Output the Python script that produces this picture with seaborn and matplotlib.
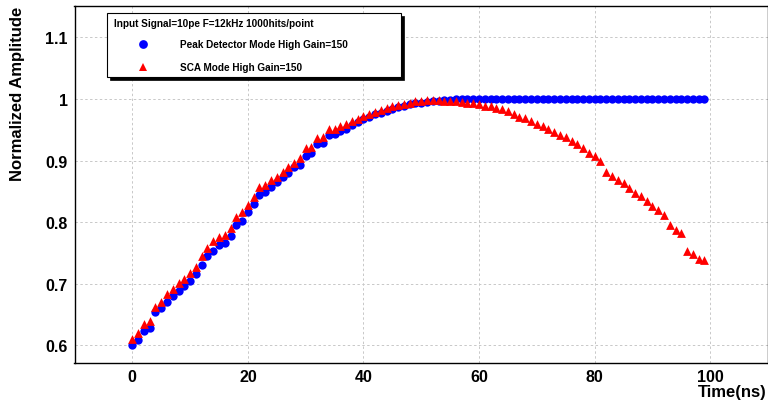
import numpy as np
import pandas as pd
import matplotlib
matplotlib.use("Agg")
import matplotlib.pyplot as plt
from matplotlib.patches import Rectangle
from matplotlib.lines import Line2D
from matplotlib.ticker import MultipleLocator, FuncFormatter
import seaborn as sns

# ---------------- data ----------------
time_ns = list(range(100))

peak_detector = [
    0.601, 0.609, 0.623, 0.629, 0.654, 0.661, 0.671, 0.681, 0.688, 0.696,
    0.704, 0.716, 0.731, 0.746, 0.753, 0.763, 0.766, 0.778, 0.796, 0.802,
    0.816, 0.830, 0.844, 0.849, 0.857, 0.865, 0.873, 0.880, 0.889, 0.893,
    0.908, 0.913, 0.927, 0.928, 0.941, 0.943, 0.948, 0.952, 0.957, 0.962,
    0.967, 0.971, 0.975, 0.978, 0.981, 0.984, 0.987, 0.989, 0.991, 0.993,
    0.994, 0.995, 0.996, 0.997, 0.998, 0.999, 1.000, 1.000, 1.000, 1.000,
    1.000, 1.000, 1.000, 1.000, 1.000, 1.000, 1.000, 1.000, 1.000, 1.000,
    1.000, 1.000, 1.000, 1.000, 1.000, 1.000, 1.000, 1.000, 1.000, 1.000,
    1.000, 1.000, 1.000, 1.000, 1.000, 1.000, 1.000, 1.000, 1.000, 1.000,
    1.000, 1.000, 1.000, 1.000, 1.000, 1.000, 1.000, 1.000, 1.000, 1.000,
]

sca_mode = [
    0.611, 0.620, 0.635, 0.639, 0.662, 0.670, 0.683, 0.692, 0.701, 0.708,
    0.717, 0.728, 0.745, 0.758, 0.769, 0.776, 0.780, 0.790, 0.808, 0.816,
    0.828, 0.841, 0.857, 0.861, 0.868, 0.874, 0.882, 0.889, 0.896, 0.904,
    0.920, 0.922, 0.937, 0.939, 0.951, 0.952, 0.956, 0.960, 0.964, 0.968,
    0.972, 0.976, 0.979, 0.982, 0.985, 0.988, 0.990, 0.992, 0.994, 0.996,
    0.997, 0.998, 0.998, 0.998, 0.997, 0.997, 0.996, 0.995, 0.994, 0.993,
    0.991, 0.989, 0.988, 0.986, 0.984, 0.981, 0.975, 0.971, 0.969, 0.965,
    0.960, 0.956, 0.952, 0.946, 0.942, 0.939, 0.931, 0.927, 0.920, 0.913,
    0.908, 0.900, 0.881, 0.875, 0.868, 0.863, 0.855, 0.848, 0.842, 0.834,
    0.826, 0.820, 0.812, 0.796, 0.788, 0.783, 0.754, 0.749, 0.740, 0.738,
]

legend_header = "Input Signal=10pe F=12kHz 1000hits/point"
label_peak = "Peak Detector Mode High Gain=150"
label_sca = "SCA Mode High Gain=150"
x_title = "Time(ns)"
y_title = "Normalized Amplitude"
x_ticks = [0, 20, 40, 60, 80, 100]
y_ticks = [0.6, 0.7, 0.8, 0.9, 1.0, 1.1]

# ---------------- figure ----------------
sns.set_style("white")
plt.rcParams["font.family"] = ["Liberation Sans", "DejaVu Sans"]
plt.rcParams["font.weight"] = "bold"
for key in ["text.color", "axes.labelcolor", "xtick.color", "ytick.color"]:
    plt.rcParams[key] = "black"

W, H = 768, 402
fig = plt.figure(figsize=(W / 100, H / 100), dpi=100)
fig.patch.set_facecolor("white")


def fx(px):
    return px / W


def fy(py):
    return 1 - py / H


ax_left, ax_right, ax_top, ax_bottom = 74.5, 768.0, 7.0, 364.0
ax = fig.add_axes([fx(ax_left), fy(ax_bottom), fx(ax_right - ax_left),
                   (ax_bottom - ax_top) / H])
ax.set_facecolor("white")

df_peak = pd.DataFrame({"t": time_ns, "amp": peak_detector})
df_sca = pd.DataFrame({"t": time_ns, "amp": sca_mode})

sns.scatterplot(data=df_peak, x="t", y="amp", ax=ax, color="#0000ff",
                marker="o", s=36, linewidth=0, legend=False, zorder=3)
sns.scatterplot(data=df_sca, x="t", y="amp", ax=ax, color="#ff0000",
                marker="^", s=40, linewidth=0, legend=False, zorder=4)

ax.set_xlim(-10, 110)
ax.set_ylim(0.5716, 1.1508)

ax.set_xticks(x_ticks)
ax.set_yticks(y_ticks)
ax.xaxis.set_minor_locator(MultipleLocator(5))
ax.yaxis.set_minor_locator(MultipleLocator(0.02))
ax.yaxis.set_major_formatter(FuncFormatter(lambda v, p: f"{v:g}"))

ax.tick_params(axis="x", which="major", direction="in", length=7.5, width=0.8,
               labelsize=11.5, pad=4, color="black", labelcolor="black")
ax.tick_params(axis="x", which="minor", direction="in", length=3.8, width=0.8,
               color="black")
ax.tick_params(axis="y", which="major", direction="in", length=15, width=0.8,
               labelsize=11.5, pad=5, color="black", labelcolor="black")
ax.tick_params(axis="y", which="minor", direction="in", length=7.5, width=0.8,
               color="black")
for lab in ax.get_xticklabels() + ax.get_yticklabels():
    lab.set_fontweight("bold")

ax.grid(True, which="major", color="#c8c8c8", linestyle=(0, (2.5, 2.5)),
        linewidth=0.7, zorder=0)
ax.set_axisbelow(True)

for side in ["left", "bottom", "top", "right"]:
    ax.spines[side].set_visible(True)
    ax.spines[side].set_color("black")
    ax.spines[side].set_linewidth(1.0)

ax.set_xlabel("")
ax.set_ylabel("")

fig.text(fx(18), fy(7), y_title, rotation=90, ha="center", va="top",
         fontsize=12, fontweight="bold", color="black")
fig.text(fx(767), fy(393), x_title, ha="right", va="center",
         fontsize=12, fontweight="bold", color="black")

# ---------------- legend box (ROOT style) ----------------
bx0, by0, bx1, by1 = 107, 14, 401, 78
shadow = Rectangle((fx(bx0 + 2.5), fy(by1 + 2.5)), fx(bx1 - bx0), (by1 - by0) / H,
                   transform=fig.transFigure, facecolor="black",
                   edgecolor="black", linewidth=0.5, zorder=10)
box = Rectangle((fx(bx0), fy(by1)), fx(bx1 - bx0), (by1 - by0) / H,
                transform=fig.transFigure, facecolor="white",
                edgecolor="black", linewidth=0.8, zorder=11)
fig.patches.extend([shadow, box])

fig.text(fx(114), fy(24), legend_header, ha="left", va="center",
         fontsize=7.2, fontweight="bold", color="black", zorder=12)

entries = [(label_peak, "o", "#0000ff", 45), (label_sca, "^", "#ff0000", 68)]
for label, mk, col, py in entries:
    fig.lines.append(Line2D([fx(142.7)], [fy(py)], transform=fig.transFigure,
                            marker=mk, markersize=6.3, color=col,
                            markeredgewidth=0, linestyle="none", zorder=12))
    fig.text(fx(180), fy(py), label, ha="left", va="center",
             fontsize=7.2, fontweight="bold", color="black", zorder=12)

fig.savefig("out.png", dpi=100, facecolor="white")
